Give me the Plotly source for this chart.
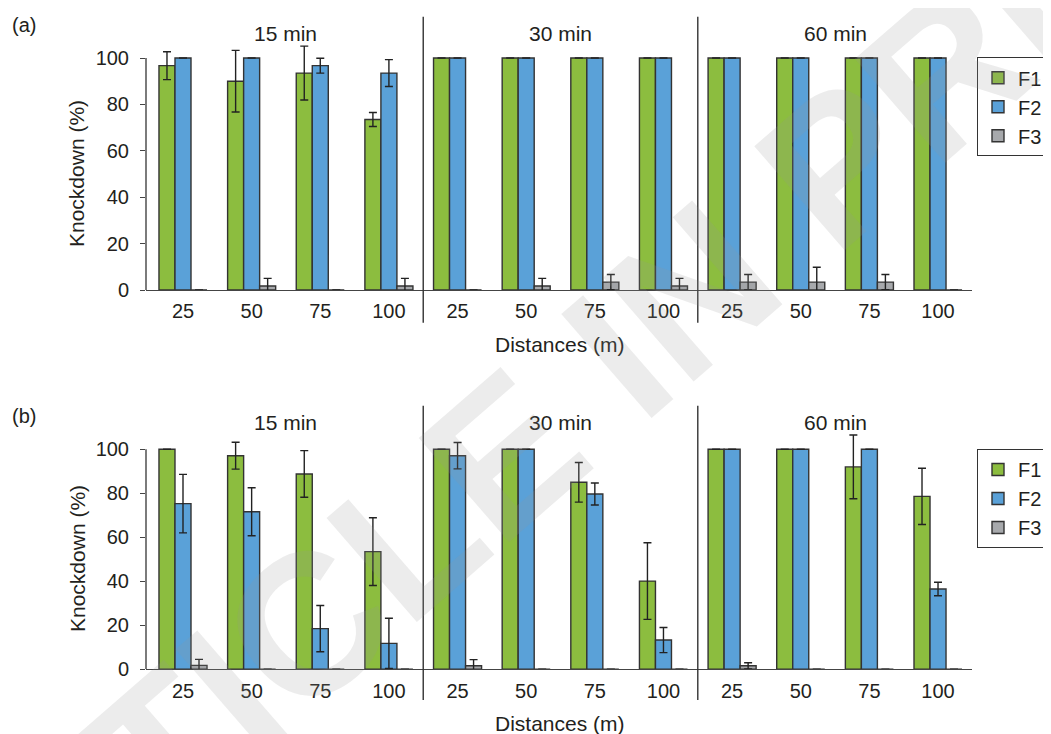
import plotly.graph_objects as go

# The page adds an 8 px body margin; the figure reaches the right/bottom window edges.
PAGE_W, PAGE_H = 1051, 734
OFF = 8
W, H = PAGE_W - OFF, PAGE_H - OFF

# ---------------- data ----------------
distance_labels = ["25", "50", "75", "100"] * 3
time_labels = ["15 min", "30 min", "60 min"]
series_names = ["F1", "F2", "F3"]

# panel (a)
a_F1 = [96.7, 90.0, 93.5, 73.5, 100, 100, 100, 100, 100, 100, 100, 100]
a_F1_err = [6.0, 13.3, 11.6, 3.0, 0, 0, 0, 0, 0, 0, 0, 0]
a_F2 = [100, 100, 96.7, 93.5, 100, 100, 100, 100, 100, 100, 100, 100]
a_F2_err = [0, 0, 3.2, 5.8, 0, 0, 0, 0, 0, 0, 0, 0]
a_F3 = [0, 1.7, 0, 1.7, 0, 1.7, 3.4, 1.7, 3.4, 3.4, 3.4, 0]
a_F3_err = [0, 3.3, 0, 3.3, 0, 3.3, 3.3, 3.3, 3.3, 6.4, 3.3, 0]

# panel (b)
b_F1 = [100, 97.1, 88.8, 53.5, 100, 100, 85.0, 40.1, 100, 100, 92.0, 78.6]
b_F1_err = [0, 6.1, 10.6, 15.4, 0, 0, 9.0, 17.4, 0, 0, 14.5, 12.8]
b_F2 = [75.3, 71.6, 18.5, 11.8, 97.1, 100, 79.7, 13.3, 100, 100, 100, 36.5]
b_F2_err = [13.3, 10.9, 10.5, 11.4, 6.0, 0, 5.0, 5.7, 0, 0, 0, 3.1]
b_F3 = [1.8, 0, 0, 0, 1.6, 0, 0, 0, 1.6, 0, 0, 0]
b_F3_err = [2.7, 0, 0, 0, 2.8, 0, 0, 0, 1.4, 0, 0, 0]

colors = ["#8cbd3f", "#5aa1d8", "#a7a9ac"]
TXT = "#231f20"
FONT = "Liberation Sans, Arial, sans-serif"

x_pos = list(range(len(distance_labels)))

fig = go.Figure()

panels = [
    ("x", "y", "legend", [a_F1, a_F2, a_F3], [a_F1_err, a_F2_err, a_F3_err]),
    ("x2", "y2", "legend2", [b_F1, b_F2, b_F3], [b_F1_err, b_F2_err, b_F3_err]),
]
for xa, ya, lg, vals, errs in panels:
    for name, v, e, c in zip(series_names, vals, errs, colors):
        fig.add_trace(go.Bar(
            x=x_pos, y=v, name=name, xaxis=xa, yaxis=ya, legend=lg,
            marker=dict(color=c, line=dict(color="#333333", width=1.4)),
            error_y=dict(type="data", array=e, visible=True, color="#222222",
                         thickness=1.4, width=4),
            showlegend=True,
        ))


def px_x(p):
    """reference page pixel -> paper fraction"""
    return (p - OFF) / W


def px_y(p):
    return 1 - (p - OFF) / H


xdom = [px_x(146), px_x(972)]
xrange_ = [-0.539, 11.495]
ydom_a = [px_y(290), px_y(34.8)]
ydom_b = [px_y(669.3), px_y(427.3)]

common_x = dict(
    domain=xdom, range=xrange_, tickmode="array", tickvals=x_pos,
    ticktext=distance_labels, showline=True, linecolor="#444444", linewidth=1.4,
    ticks="", showgrid=False, zeroline=False,
    tickfont=dict(size=20, color=TXT, family=FONT), ticklabelstandoff=3,
)
common_y = dict(
    range=[0, 110], tickmode="array", tickvals=[0, 20, 40, 60, 80, 100],
    ticks="outside", ticklen=5, tickwidth=1.4, tickcolor="#444444",
    showline=False, showgrid=False, zeroline=False,
    tickfont=dict(size=20, color=TXT, family=FONT), ticklabelstandoff=7,
)

legend_style = dict(xref="container", yref="container",
                    xanchor="left", yanchor="top", bordercolor="#333333",
                    borderwidth=1, bgcolor="white",
                    font=dict(size=20, color=TXT, family=FONT), tracegroupgap=0)

fig.update_layout(
    width=W, height=H,
    margin=dict(l=0, r=0, t=0, b=0, autoexpand=False),
    paper_bgcolor="white", plot_bgcolor="white",
    barmode="group", bargap=0.3, bargroupgap=0,
    font=dict(family=FONT, color=TXT, size=20),
    xaxis=dict(anchor="y", **common_x),
    yaxis=dict(anchor="x", domain=ydom_a, **common_y),
    xaxis2=dict(anchor="y2", **common_x),
    yaxis2=dict(anchor="x2", domain=ydom_b, **common_y),
    legend=dict(x=px_x(977), y=px_y(57.3), **legend_style),
    legend2=dict(x=px_x(977), y=px_y(449), **legend_style),
)

shapes = []
ann = []
for xa, ya, ytop, ybot, dist_y, ylab_y, tl_y, tag, tag_y in [
    ("x", "y", 16.7, 322.7, 344, 174, 33.5, "(a)", 25),
    ("x2", "y2", 405.7, 700, 723, 559, 423, "(b)", 415.8),
]:
    # y axis line from 0 to 100
    shapes.append(dict(type="line", xref=f"{xa} domain", yref=ya, x0=0, x1=0,
                       y0=0, y1=100, line=dict(color="#444444", width=1.4)))
    # group separators
    for sx in [3.5, 7.5]:
        shapes.append(dict(type="line", xref=xa, yref="paper", x0=sx, x1=sx,
                           y0=px_y(ybot), y1=px_y(ytop),
                           line=dict(color="#333333", width=1.4)))
    for i, t in enumerate(time_labels):
        ann.append(dict(text=t, xref=xa, yref="paper", x=1.5 + 4 * i, y=px_y(tl_y),
                        showarrow=False, xanchor="center", yanchor="middle",
                        font=dict(size=21, color=TXT, family=FONT)))
    ann.append(dict(text="Distances (m)", xref="paper", yref="paper", x=px_x(560),
                    y=px_y(dist_y), showarrow=False, xanchor="center", yanchor="middle",
                    font=dict(size=21, color=TXT, family=FONT)))
    ann.append(dict(text="Knockdown (%)", xref="paper", yref="paper", x=px_x(77),
                    y=px_y(ylab_y), showarrow=False, textangle=-90,
                    xanchor="center", yanchor="middle",
                    font=dict(size=21, color=TXT, family=FONT)))
    ann.append(dict(text=tag, xref="paper", yref="paper", x=px_x(24), y=px_y(tag_y),
                    showarrow=False, xanchor="center", yanchor="middle",
                    font=dict(size=20, color=TXT, family=FONT)))

# watermark
ann.append(dict(text="<b>ARTICLE IN PRESS</b>", xref="paper", yref="paper",
                x=px_x(600), y=px_y(370), showarrow=False, textangle=-41,
                xanchor="center", yanchor="middle",
                font=dict(size=200, color="rgba(150,150,150,0.18)", family=FONT)))

fig.update_layout(shapes=shapes, annotations=ann)
fig.write_html("out.html")
